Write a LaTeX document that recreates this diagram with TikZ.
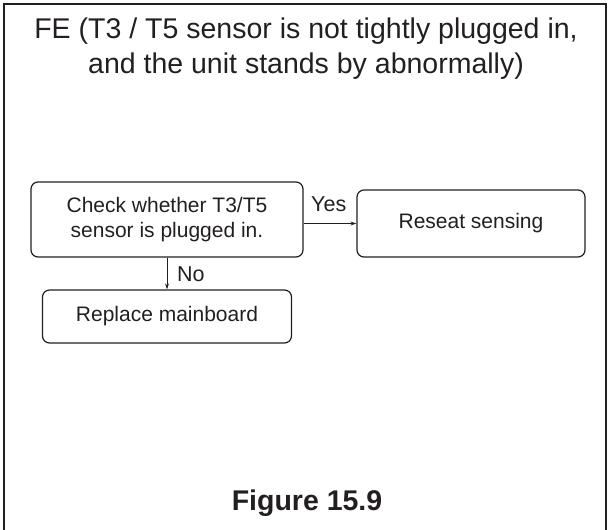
\documentclass[tikz,border=0pt]{standalone}
\usepackage{fontspec}
\setmainfont{Liberation Sans}
\usetikzlibrary{arrows.meta}
\definecolor{ink}{HTML}{231F20}
\begin{document}
\begin{tikzpicture}[x=1pt,y=-1pt,
  stepbox/.style={draw=ink,line width=1.2pt,rounded corners=7pt,text=ink,align=center,font=\fontsize{21}{25}\selectfont,inner sep=0pt},
  lbl/.style={text=ink,font=\fontsize{21.5}{24}\selectfont,inner sep=0pt},
  conn/.style={draw=ink,line width=1pt,-{Stealth[length=6pt,width=4pt]}}]
\useasboundingbox (0,0) rectangle (609,529);
\draw[ink,line width=1.8pt] (4,540) -- (4,4) -- (606,4) -- (606,540);
\node[text=ink,align=center,font=\fontsize{28.5}{35}\selectfont,inner sep=0pt] (title) at (306,49) {FE (T3 / T5 sensor is not tightly plugged in,\\and the unit stands by abnormally)};
\node[stepbox,minimum width=272pt,minimum height=75pt] (check) at (167,219.5) {Check whether T3/T5\\sensor is plugged in.};
\node[stepbox,minimum width=228pt,minimum height=67pt] (reseat) at (471,223.5) {Reseat sensing};
\node[stepbox,minimum width=249pt,minimum height=53pt] (replace) at (167,316.5) {Replace mainboard};
\draw[conn] (check.east |- 0,223.5) -- (reseat.west);
\draw[conn] (check.south) -- (replace.north);
\node[lbl,anchor=south west] (yes) at (311,212) {Yes};
\node[lbl,anchor=west] (no) at (177,274) {No};
\node[text=ink,font=\fontsize{28.5}{30}\bfseries\selectfont,inner sep=0pt] (fig) at (307,503) {Figure 15.9};
\end{tikzpicture}
\end{document}
